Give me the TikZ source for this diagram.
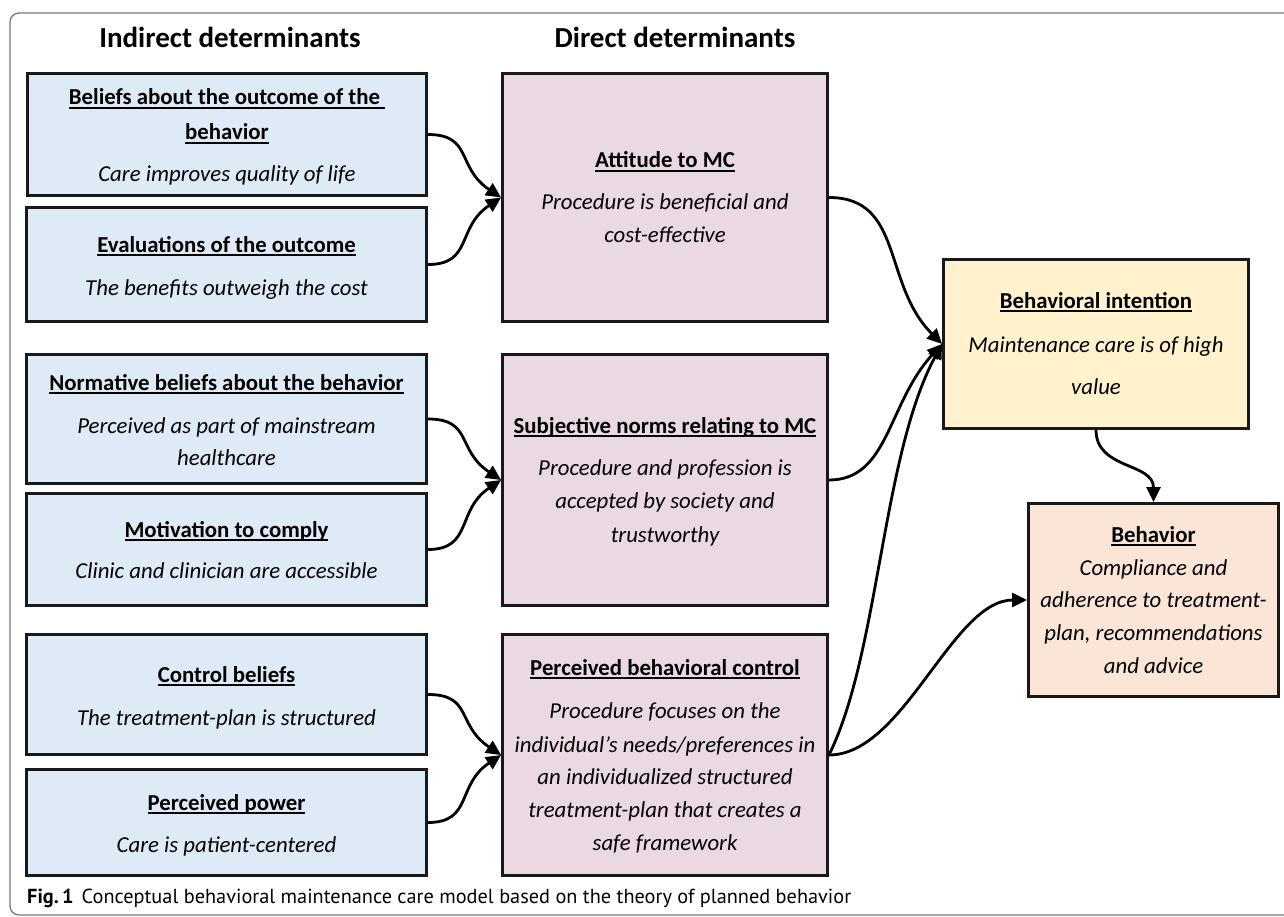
\documentclass[tikz,border=0pt]{standalone}
\usepackage{fontspec}
\setmainfont{Carlito}
\newfontfamily\capfont{PT Sans}
\usetikzlibrary{arrows.meta}
\definecolor{bluef}{RGB}{222,235,247}
\definecolor{pinkf}{RGB}{234,216,226}
\definecolor{yelf}{RGB}{255,242,204}
\definecolor{orf}{RGB}{251,229,214}
\definecolor{edgec}{RGB}{25,25,25}
\definecolor{framec}{RGB}{120,120,120}
\newcommand\undl[1]{\setbox0=\hbox{#1}\rlap{\rule[-3.6pt]{\wd0}{1.5pt}}\box0}
\newcommand\mkttl[4]{\node[ttl] (#1) at (#2,-#3) {\undl{#4}};}
\newcommand\mkitl[4]{\node[itl] (#1) at (#2,-#3) {#4};}
\begin{document}
\begin{tikzpicture}[x=1pt,y=1pt,
  box/.style={draw=edgec, line width=2.8pt, inner sep=0pt},
  ttl/.style={anchor=base, inner sep=0pt, font=\fontsize{22.8}{27}\selectfont\bfseries},
  itl/.style={anchor=base, inner sep=0pt, font=\fontsize{22.8}{27}\selectfont\itshape},
  hdr/.style={anchor=base, inner sep=0pt, font=\fontsize{29}{34}\selectfont\bfseries},
  conn/.style={line width=2.8pt, draw=black, -{Triangle[length=15pt,width=14pt]}},
]
\useasboundingbox (0,0) rectangle (1284,-917);
\draw[framec, line width=1.3pt, rounded corners=9pt] (10,-13) rectangle (1320,-915);

% headers
\node[hdr] (H1) at (230,-48) {Indirect determinants};
\node[hdr] (H2) at (675,-48) {Direct determinants};

% boxes
\node[box, fill=bluef, minimum width=399, minimum height=122] (B1) at (227,-134.5) {};
\node[box, fill=bluef, minimum width=400, minimum height=114] (B2) at (226.5,-264.5) {};
\node[box, fill=bluef, minimum width=400, minimum height=129] (B3) at (226.5,-419) {};
\node[box, fill=bluef, minimum width=400, minimum height=112] (B4) at (226.5,-549.5) {};
\node[box, fill=bluef, minimum width=400, minimum height=120] (B5) at (226.5,-694.5) {};
\node[box, fill=bluef, minimum width=400, minimum height=106] (B6) at (226.5,-822.5) {};
\node[box, fill=pinkf, minimum width=325, minimum height=248] (P1) at (665,-197.5) {};
\node[box, fill=pinkf, minimum width=325, minimum height=251] (P2) at (665,-480) {};
\node[box, fill=pinkf, minimum width=325, minimum height=241] (P3) at (665,-755) {};
\node[box, fill=yelf, minimum width=305, minimum height=169] (Y) at (1096,-344) {};
\node[box, fill=orf, minimum width=250, minimum height=193] (O) at (1153.5,-600) {};

% texts
\mkttl{B1a}{227}{105}{Beliefs about the outcome of the\ }
\mkttl{B1b}{227}{140}{behavior}
\mkitl{B1c}{227}{182}{Care improves quality of life}
\mkttl{B2a}{226.5}{252}{Evaluations of the outcome}
\mkitl{B2b}{226.5}{295}{The benefits outweigh the cost}
\mkttl{B3a}{226.5}{390}{Normative beliefs about the behavior}
\mkitl{B3b}{226.5}{433}{Perceived as part of mainstream}
\mkitl{B3c}{226.5}{465}{healthcare}
\mkttl{B4a}{226.5}{537}{Motivation to comply}
\mkitl{B4b}{226.5}{578}{Clinic and clinician are accessible}
\mkttl{B5a}{226.5}{682}{Control beliefs}
\mkitl{B5b}{226.5}{725}{The treatment-plan is structured}
\mkttl{B6a}{226.5}{810}{Perceived power}
\mkitl{B6b}{226.5}{852}{Care is patient-centered}
\mkttl{P1a}{665}{168}{Attitude to MC}
\mkitl{P1b}{665}{210}{Procedure is beneficial and}
\mkitl{P1c}{665}{243}{cost-effective}
\mkttl{P2a}{665}{433}{Subjective norms relating to MC}
\mkitl{P2b}{665}{475}{Procedure and profession is}
\mkitl{P2c}{665}{508}{accepted by society and}
\mkitl{P2d}{665}{542}{trustworthy}
\mkttl{P3a}{665}{675}{Perceived behavioral control}
\mkitl{P3b}{665}{718}{Procedure focuses on the}
\mkitl{P3c}{665}{752}{individual’s needs/preferences in}
\mkitl{P3d}{665}{784}{an individualized structured}
\mkitl{P3e}{665}{817}{treatment-plan that creates a}
\mkitl{P3f}{665}{850}{safe framework}
\mkttl{Ya}{1096}{308}{Behavioral intention}
\mkitl{Yb}{1096}{352}{Maintenance care is of high}
\mkitl{Yc}{1096}{394}{value}
\mkttl{Oa}{1153.5}{542}{Behavior}
\mkitl{Ob}{1153.5}{575}{Compliance and}
\mkitl{Oc}{1153.5}{607}{adherence to treatment-}
\mkitl{Od}{1153.5}{640}{plan, recommendations}
\mkitl{Oe}{1153.5}{673}{and advice}

% caption
\node[anchor=base west, inner sep=0pt, font=\capfont\fontsize{20.3}{24}\selectfont] (cap) at (27,-903)
  {\textbf{Fig.\,1}\hspace{8pt}Conceptual behavioral maintenance care model based on the theory of planned behavior};

% connectors
\draw[conn] (B1.east) .. controls +(45,0) and +(-45,30) .. (P1.west);
\draw[conn] (B2.east) .. controls +(45,0) and +(-45,-30) .. (P1.west);
\draw[conn] (B3.east) .. controls +(45,0) and +(-45,30) .. (P2.west);
\draw[conn] (B4.east) .. controls +(45,0) and +(-45,-30) .. (P2.west);
\draw[conn] (B5.east) .. controls +(45,0) and +(-45,30) .. (P3.west);
\draw[conn] (B6.east) .. controls +(45,0) and +(-45,-30) .. (P3.west);
\draw[conn] (P1.east) .. controls +(75,0) and +(-60,60) .. (Y.west);
\draw[conn] (P2.east) .. controls +(60,0) and +(-55,-60) .. (Y.west);
\draw[conn] (P3.east) .. controls +(50,100) and +(-60,-110) .. (Y.west);
\draw[conn] (P3.east) .. controls +(75,0) and +(-75,0) .. (O.west);
\draw[conn] (Y.south) .. controls +(0,-40) and +(0,40) .. (O.north);
\end{tikzpicture}
\end{document}
